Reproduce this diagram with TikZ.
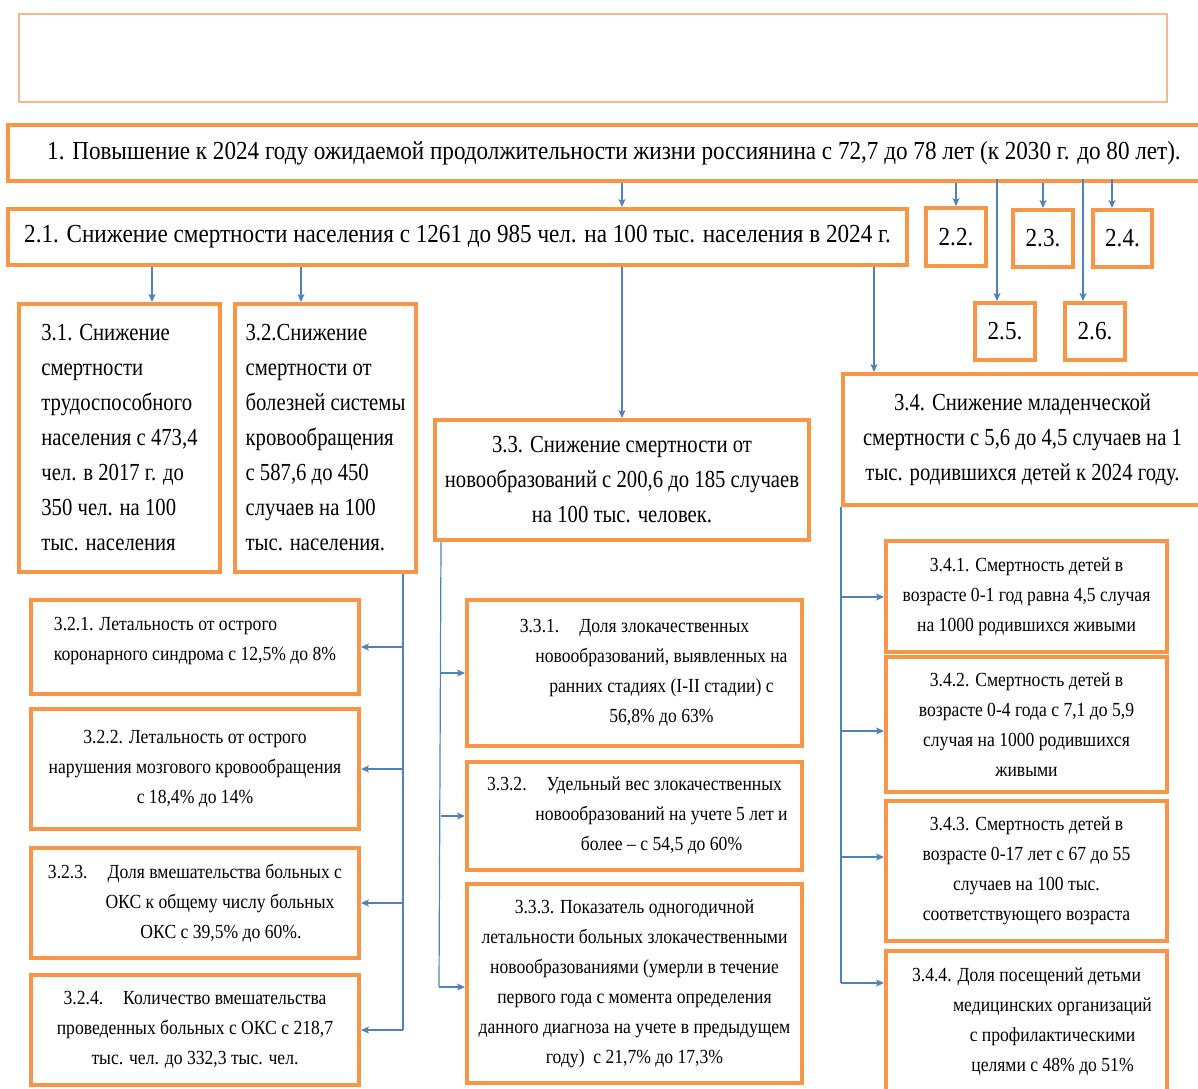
\documentclass[tikz,border=0pt]{standalone}
\usepackage{fontspec}
\setmainfont{Liberation Serif}
\newfontfamily\topserif[FakeStretch=0.89]{Liberation Serif}
\newfontfamily\midserif[FakeStretch=0.845]{Liberation Serif}
\newfontfamily\smallserif[FakeStretch=0.88]{Liberation Serif}
\usetikzlibrary{arrows.meta,calc}
\definecolor{boxorange}{HTML}{F79646}
\definecolor{paleorange}{HTML}{F8B98A}
\definecolor{lineblue}{HTML}{4F81BD}
\tikzstyle{goal}=[draw=boxorange, line width=4pt, fill=white, inner sep=0pt, align=center]
\tikzstyle{topfont}=[font=\topserif\fontsize{26}{35}\selectfont]
\tikzstyle{bigfont}=[font=\midserif\fontsize{24.5}{35}\selectfont]
\tikzstyle{smallfont}=[font=\smallserif\fontsize{20}{30}\selectfont]
\tikzstyle{arrow}=[draw=lineblue, line width=1.2pt, -{Stealth[length=8pt,width=7pt,inset=2pt]}]
\tikzstyle{line}=[draw=lineblue, line width=1.2pt]

\begin{document}
\begin{tikzpicture}[x=1pt, y=-1pt]
	\useasboundingbox (0,0) rectangle (1198,1088);
	\begin{scope}
		\node (top) at (593,58) [draw=paleorange, line width=1.2pt, minimum width=1148, minimum height=88] {};
		\node (b1) at (614,153) [goal, topfont, minimum width=1212, minimum height=56] {1. Повышение к 2024 году ожидаемой продолжительности жизни россиянина с 72,7 до 78 лет (к 2030 г. до 80 лет).};
		\node (b21) at (457.5,237) [goal, topfont, minimum width=899, minimum height=56] {2.1. Снижение смертности населения с 1261 до 985 чел. на 100 тыс. населения в 2024 г.};
		\node (b22) at (956,237) [goal, topfont, minimum width=60, minimum height=58] {2.2.};
		\node (b23) at (1043,238.5) [goal, topfont, minimum width=60, minimum height=57] {2.3.};
		\node (b24) at (1122.5,238.5) [goal, topfont, minimum width=59, minimum height=57] {2.4.};
		\node (b25) at (1005,331.5) [goal, topfont, minimum width=60, minimum height=57] {2.5.};
		\node (b26) at (1095,331.5) [goal, topfont, minimum width=60, minimum height=57] {2.6.};

		\node (b31) at (119.5,438) [goal, bigfont, align=left, minimum width=201, minimum height=268] {3.1. Снижение\\смертности\\трудоспособного\\населения с 473,4\\чел. в 2017 г. до\\350 чел. на 100\\тыс. населения};
		\node (b32) at (325.5,438) [goal, bigfont, align=left, minimum width=181, minimum height=268] {3.2.Снижение\\смертности от\\болезней системы\\кровообращения\\с 587,6 до 450\\случаев на 100\\тыс. населения.};
		\node (b33) at (622,480) [goal, bigfont, minimum width=374, minimum height=120] {3.3. Снижение смертности от\\новообразований с 200,6 до 185 случаев\\на 100 тыс. человек.};
		\node (b34) at (1022.5,439.5) [goal, bigfont, minimum width=359, minimum height=131] {3.4. Снижение младенческой\\смертности с 5,6 до 4,5 случаев на 1\\тыс. родившихся детей к 2024 году.};

		\node (b321) at (195,647) [goal, smallfont, align=left, minimum width=328, minimum height=94] {3.2.1. Летальность от острого\\коронарного синдрома с 12,5\% до 8\%\\[-14pt]\mbox{}};
		\node (b322) at (195,769) [goal, smallfont, minimum width=328, minimum height=120] {3.2.2. Летальность от острого\\нарушения мозгового кровообращения\\с 18,4\% до 14\%};
		\node (b323) at (195,903) [goal, smallfont, minimum width=328, minimum height=110] {3.2.3.\quad Доля вмешательства больных с\\\hspace*{50pt}ОКС к общему числу больных\\\hspace*{52pt}ОКС с 39,5\% до 60\%.};
		\node (b324) at (195,1030) [goal, smallfont, minimum width=328, minimum height=110] {3.2.4.\quad Количество вмешательства\\проведенных больных с ОКС с 218,7\\тыс. чел. до 332,3 тыс. чел.};

		\node (b331) at (634.5,673) [goal, smallfont, minimum width=335, minimum height=146] {3.3.1.\quad Доля злокачественных\\\hspace*{54pt}новообразований, выявленных на\\\hspace*{54pt}ранних стадиях (I-II стадии) с\\\hspace*{54pt}56,8\% до 63\%};
		\node (b332) at (634.5,816) [goal, smallfont, minimum width=335, minimum height=108] {3.3.2.\quad Удельный вес злокачественных\\\hspace*{54pt}новообразований на учете 5 лет и\\\hspace*{54pt}более – с 54,5 до 60\%};
		\node (b333) at (634.5,983.5) [goal, smallfont, minimum width=335, minimum height=199] {3.3.3. Показатель одногодичной\\летальности больных злокачественными\\новообразованиями (умерли в течение\\первого года с момента определения\\данного диагноза на учете в предыдущем\\году)\ \ с 21,7\% до 17,3\%};

		\node (b341) at (1026.5,596.5) [goal, smallfont, minimum width=281, minimum height=111] {3.4.1. Смертность детей в\\возрасте 0-1 год равна 4,5 случая\\на 1000 родившихся живыми};
		\node (b342) at (1026.5,724.5) [goal, smallfont, minimum width=281, minimum height=135] {3.4.2. Смертность детей в\\возрасте 0-4 года с 7,1 до 5,9\\случая на 1000 родившихся\\живыми};
		\node (b343) at (1026.5,871) [goal, smallfont, minimum width=281, minimum height=140] {3.4.3. Смертность детей в\\возрасте 0-17 лет с 67 до 55\\случаев на 100 тыс.\\соответствующего возраста};
		\node (b344) at (1026.5,1021.5) [goal, smallfont, minimum width=281, minimum height=141] {3.4.4. Доля посещений детьми\\\hspace*{52pt}медицинских организаций\\\hspace*{52pt}с профилактическими\\\hspace*{52pt}целями с 48\% до 51\%};

		\coordinate (s32) at (403,0);
		\coordinate (s33) at (441,0);
	\end{scope}
	\begin{scope}
		\draw[arrow] ($(b1.south west)+(616,0)$) -- ($(b21.north west)+(616,0)$);
		\draw[arrow] (b1.south -| b22) -- (b22);
		\draw[arrow] (b1.south -| b23) -- (b23);
		\draw[arrow] ($(b24.north west)+(21,-29)$) -- ($(b24.north west)+(21,0)$);
		\draw[arrow] ($(b25.north west)+(24,-122)$) -- ($(b25.north west)+(24,0)$);
		\draw[arrow] ($(b26.north west)+(20,-122)$) -- ($(b26.north west)+(20,0)$);

		\draw[arrow] ($(b21.south west)+(146,0)$) -- ($(b31.north west)+(135,0)$);
		\draw[arrow] ($(b21.south west)+(295,0)$) -- ($(b32.north west)+(68,0)$);
		\draw[arrow] (b21.south -| b33) -- (b33);
		\draw[arrow] ($(b21.south west)+(868,0)$) -- ($(b34.north west)+(33,0)$);

		\draw[line] (b32.south -| s32) -- (b324 -| s32);
		\draw[arrow] (b321 -| s32) -- (b321);
		\draw[arrow] (b322 -| s32) -- (b322);
		\draw[arrow] (b323 -| s32) -- (b323);
		\draw[arrow] (b324 -| s32) -- (b324);

		\draw[line] (b33.south -| s33) -- ($(b333.north west)+(-26,105)$);
		\draw[arrow] (b331 -| s33) -- (b331);
		\draw[arrow] (b332 -| s33) -- (b332);
		\draw[arrow] ($(b333.north west)+(-26,105)$) -- ($(b333.north west)+(0,105)$);

		\draw[line] (b34.south west) -- ($(b344.north west)+(-43,34)$);
		\draw[arrow] ($(b341.north west)+(-43,58)$) -- ($(b341.north west)+(0,58)$);
		\draw[arrow] ($(b342.north west)+(-43,76)$) -- ($(b342.north west)+(0,76)$);
		\draw[arrow] ($(b343.north west)+(-43,58)$) -- ($(b343.north west)+(0,58)$);
		\draw[arrow] ($(b344.north west)+(-43,34)$) -- ($(b344.north west)+(0,34)$);
	\end{scope}
\end{tikzpicture}
\end{document}
